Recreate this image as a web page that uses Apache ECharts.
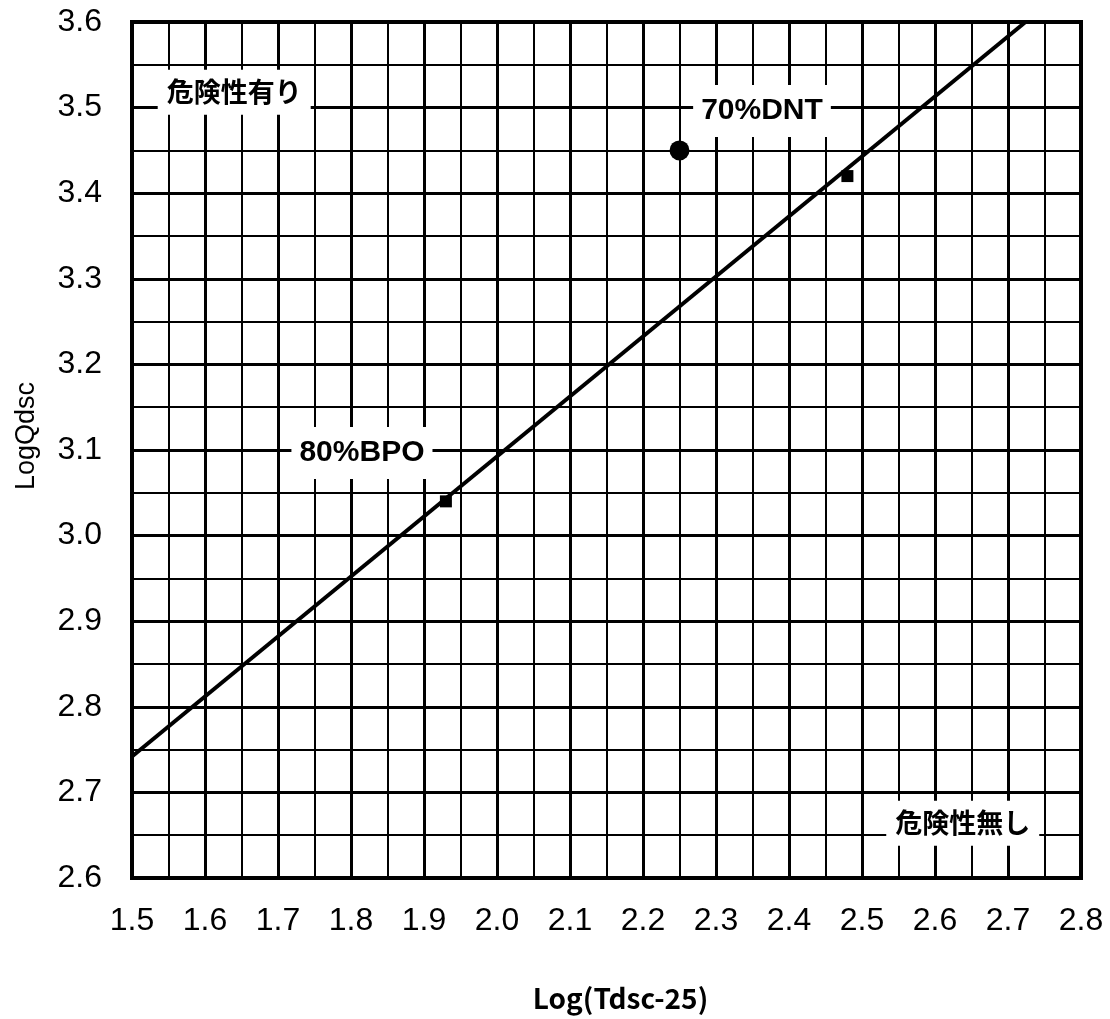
<!DOCTYPE html>
<html>
<head>
<meta charset="utf-8">
<script src="https://cdn.jsdelivr.net/npm/echarts@6/dist/echarts.min.js"></script>
<style>
  html, body { margin: 0; padding: 0; background: #fff; }
  #chart { width: 1110px; height: 1019px; }
</style>
</head>
<body>
<div id="chart"></div>
<script>
// Axis ranges and tick spacing
const xRange = [1.5, 2.8];
const yRange = [2.6, 3.6];
const tickStep = 0.1;

// Regression line (boundary between hazardous / non-hazardous)
const boundaryX = [1.5, 2.724];
const boundaryY = [2.742, 3.6];

// Samples lying on the boundary (squares)
const squareX = [1.93, 2.48];
const squareY = [3.04, 3.42];

// Sample above the boundary (filled circle)
const circleX = [2.25];
const circleY = [3.45];

// Text annotations placed on the grid
const noteText = ['危険性有り', '70%DNT', '80%BPO', '危険性無し'];
const noteX = [1.64, 2.363, 1.815, 2.638];
const noteY = [3.518, 3.496, 3.0965, 2.664];
const noteCJK = [true, false, false, true];

const latinFont = "'Liberation Sans Narrow', 'Liberation Sans', Arial, sans-serif";
const cjkFont = "'Noto Sans CJK JP', sans-serif";

const chart = echarts.init(document.getElementById('chart'), null, { renderer: 'canvas' });

const pairs = (xs, ys) => xs.map((x, i) => [x, ys[i]]);

const option = {
  animation: false,
  backgroundColor: '#fff',
  grid: {
    left: 132, right: 29, top: 22, bottom: 141,
    show: true, borderColor: '#000', borderWidth: 4
  },
  xAxis: {
    type: 'value',
    min: xRange[0], max: xRange[1], interval: tickStep,
    name: 'Log(Tdsc-25)',
    nameLocation: 'middle',
    nameGap: 106,
    nameTextStyle: { fontFamily: cjkFont, fontSize: 28, fontWeight: 'bold', color: '#000', padding: [0, 0, 0, 28] },
    axisLine: { show: false },
    axisTick: { show: false },
    minorTick: { show: false, splitNumber: 2 },
    axisLabel: {
      margin: 27, color: '#000', fontFamily: latinFont, fontSize: 32,
      formatter: v => v.toFixed(1)
    },
    splitLine: { show: true, lineStyle: { color: '#000', width: 3 } },
    minorSplitLine: { show: true, lineStyle: { color: '#000', width: 2 } }
  },
  yAxis: {
    type: 'value',
    min: yRange[0], max: yRange[1], interval: tickStep,
    name: 'LogQdsc',
    nameLocation: 'middle',
    nameGap: 92,
    nameTextStyle: { fontFamily: latinFont, fontSize: 27, color: '#000', padding: [0, 0, 0, 28] },
    axisLine: { show: false },
    axisTick: { show: false },
    minorTick: { show: false, splitNumber: 2 },
    axisLabel: {
      margin: 30, color: '#000', fontFamily: latinFont, fontSize: 32,
      formatter: v => v.toFixed(1)
    },
    splitLine: { show: true, lineStyle: { color: '#000', width: 3 } },
    minorSplitLine: { show: true, lineStyle: { color: '#000', width: 2 } }
  },
  series: [
    {
      type: 'line',
      data: pairs(boundaryX, boundaryY),
      showSymbol: false,
      lineStyle: { color: '#000', width: 4 },
      z: 3
    },
    {
      type: 'scatter',
      data: pairs(squareX, squareY),
      symbol: 'rect',
      symbolSize: 12,
      itemStyle: { color: '#000', opacity: 1 },
      z: 4
    },
    {
      type: 'scatter',
      data: pairs(circleX, circleY),
      symbol: 'circle',
      symbolSize: 20,
      itemStyle: { color: '#000', opacity: 1 },
      z: 4
    },
    {
      type: 'scatter',
      symbolSize: 0,
      z: 5,
      itemStyle: { opacity: 1 },
      data: noteText.map((t, i) => ({
        name: t,
        value: [noteX[i], noteY[i]],
        label: noteCJK[i]
          ? { fontFamily: cjkFont, fontSize: 27, fontWeight: 'bold', padding: [9, 9] }
          : { fontFamily: "'Liberation Sans', Arial, sans-serif", fontSize: 30, fontWeight: 'bold', padding: [11, 8] }
      })),
      label: {
        show: true,
        position: 'inside',
        formatter: p => p.name,
        color: '#000',
        backgroundColor: '#fff'
      }
    }
  ]
};

chart.setOption(option);
</script>
</body>
</html>
